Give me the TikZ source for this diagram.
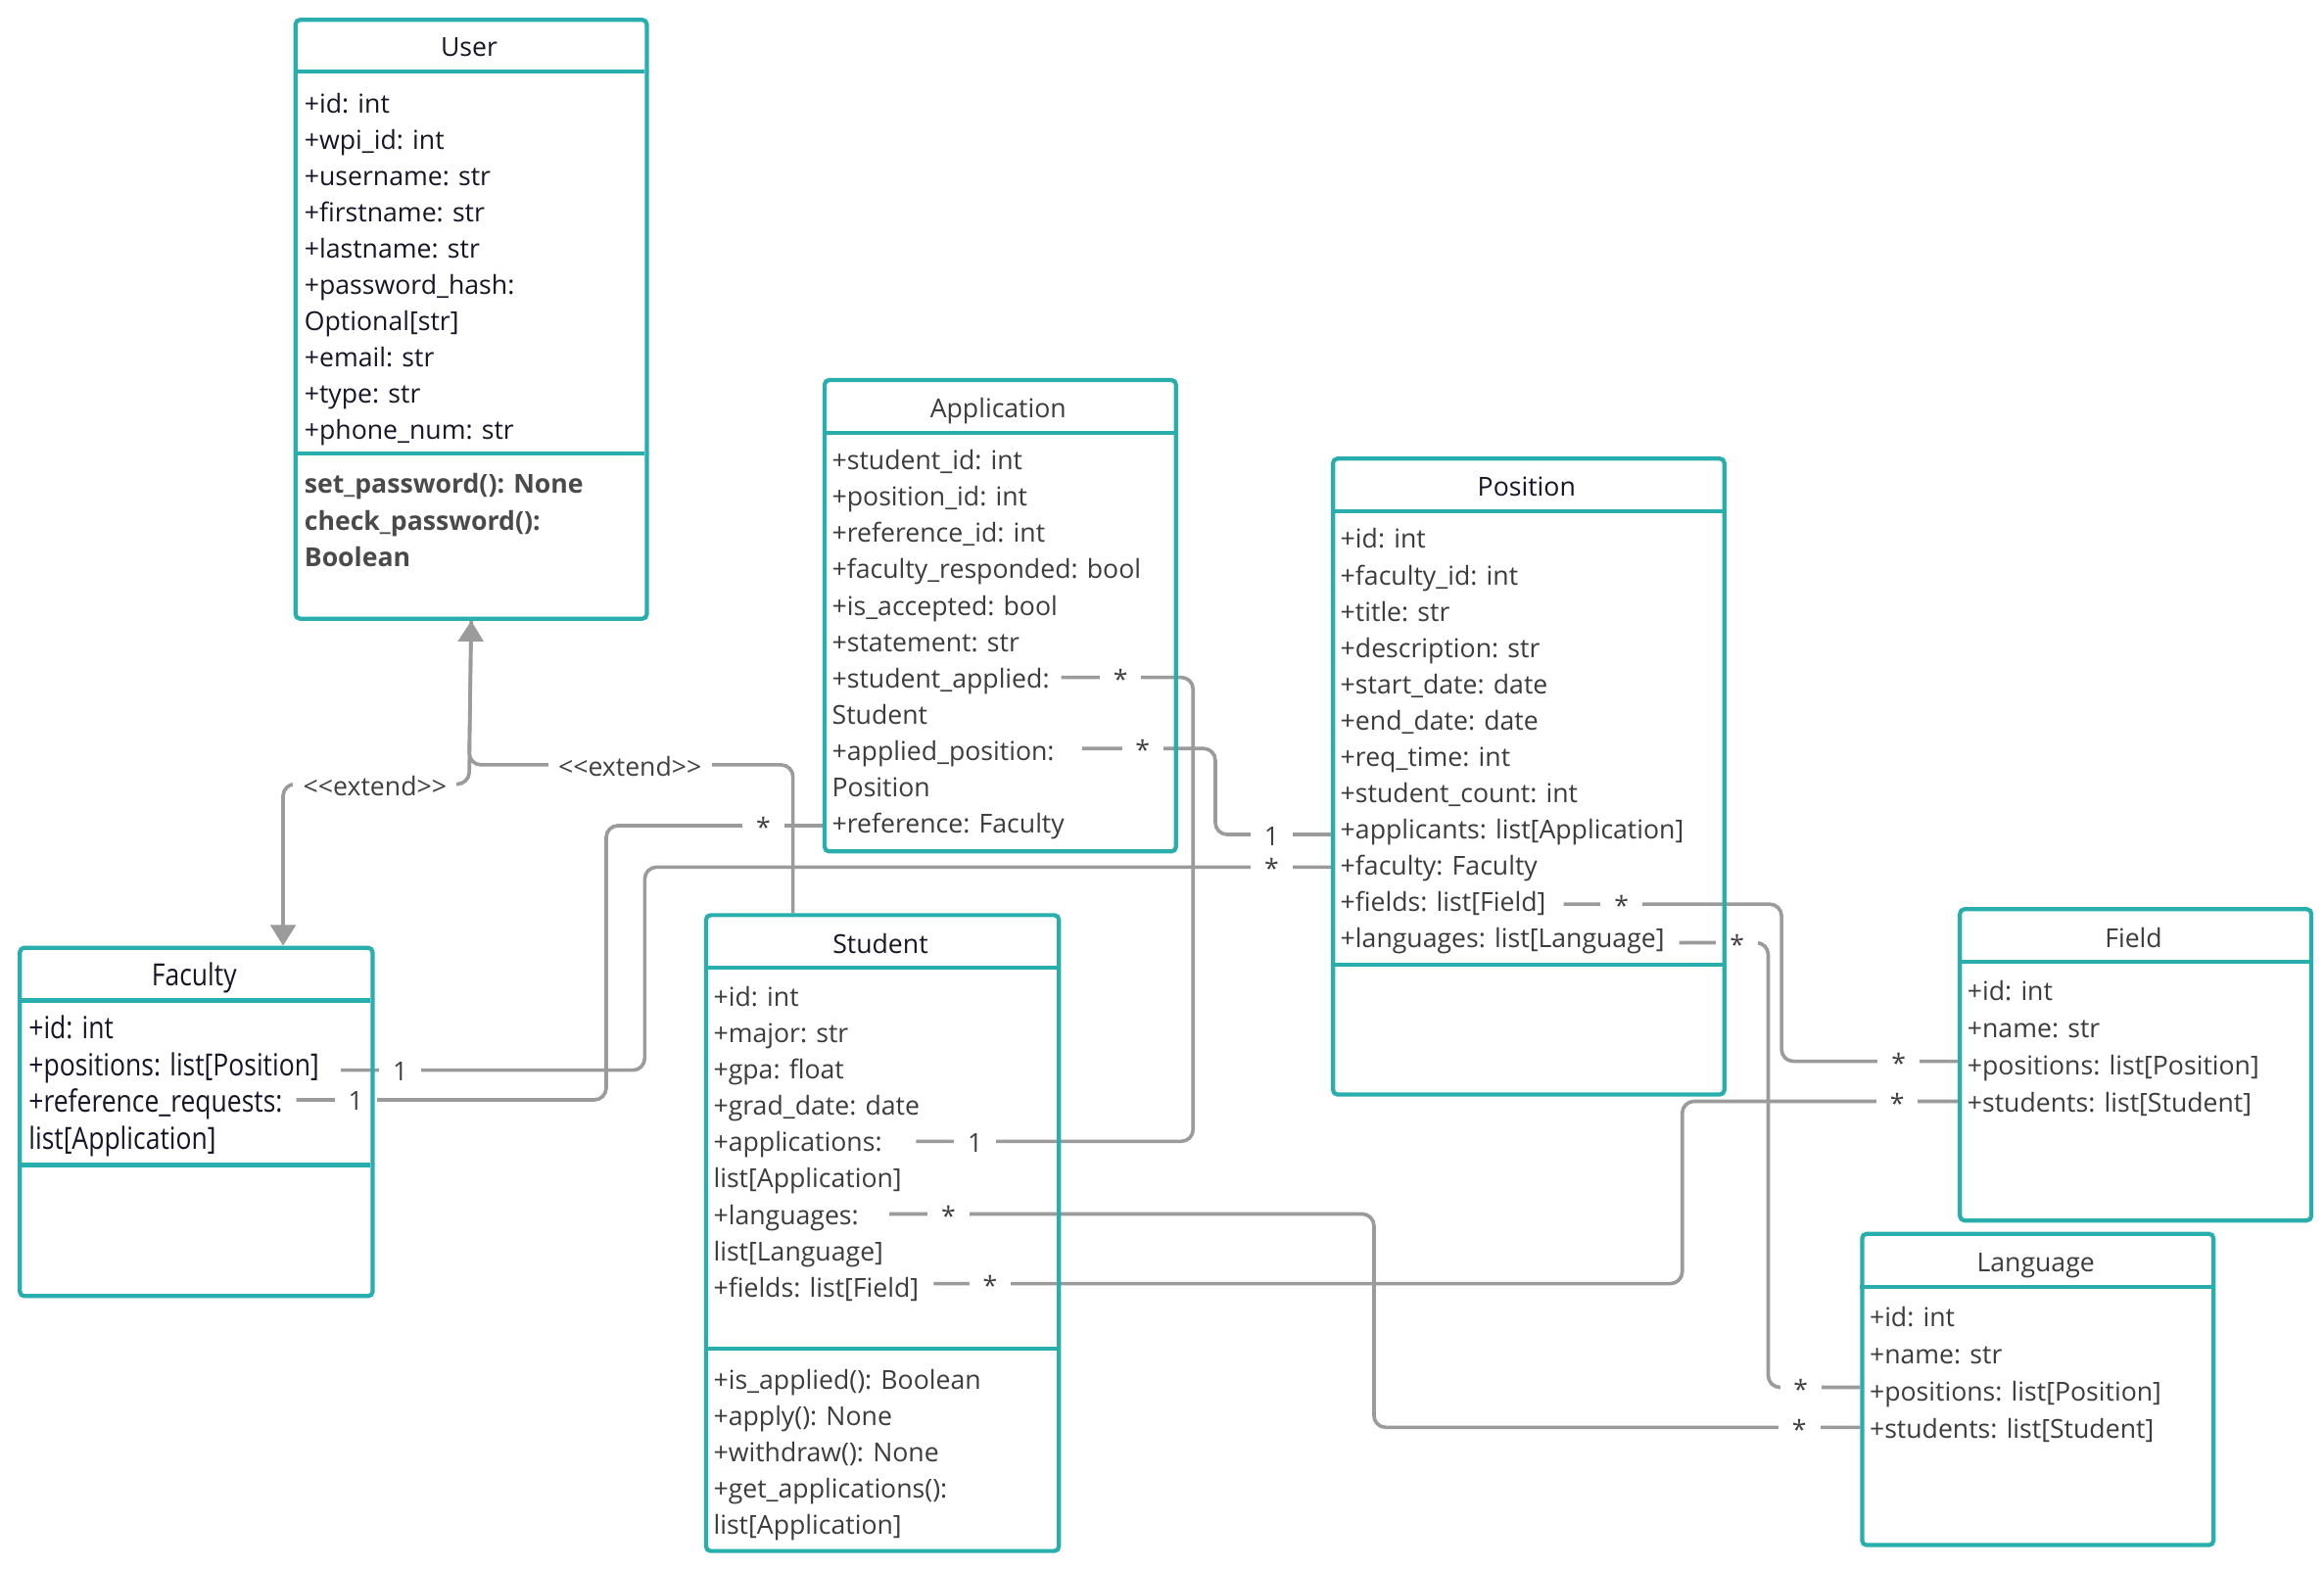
\documentclass[tikz,border=0pt]{standalone}
\usepackage{fontspec}
\setmainfont{Open Sans}
\usepackage{graphicx}
\usetikzlibrary{arrows.meta}

\definecolor{boxteal}{RGB}{40,174,172}
\definecolor{wire}{RGB}{155,155,155}
\definecolor{ink}{RGB}{22,22,38}
\definecolor{greytext}{RGB}{60,60,60}
\definecolor{methodgrey}{RGB}{74,74,74}
\definecolor{labelgrey}{RGB}{64,64,64}

\newcommand\umlfont{\fontsize{8.8pt}{10.5pt}\selectfont}
\newcommand\facfont{\fontsize{10.3pt}{12pt}\selectfont}
\newcommand\plainrow[1]{#1}
\newcommand\narrowrow[1]{\scalebox{0.85}[1]{#1}}

% class box: name, left, top, right, bottom (units of the picture)
\newcommand\classbox[5]{%
  \node[classframe, minimum width={(#4-#2)*0.5pt}, minimum height={(#5-#3)*0.5pt}]
    (#1) at (#2,#3) {};}
% compartment divider: left, right, y
\newcommand\divider[3]{\draw[boxrule] (#1,#3) -- (#2,#3);}
% rows of a compartment: prefix, x, first row centre, step, style, wrapper, list
\newcommand\classrows[7]{%
  \foreach \rowtext [count=\k from 0] in {#7}{%
    \node[#5, anchor=base west] (#1-\k) at (#2, {#3 + 7 + #4*\k}) {#6{\rowtext}};
  }}

\pgfdeclarelayer{bg}
\pgfdeclarelayer{lines}
\pgfdeclarelayer{labels}
\pgfsetlayers{bg,lines,labels,main}

\begin{document}
\begin{tikzpicture}[x=0.5pt,y=-0.5pt,
  classframe/.style={draw=boxteal, line width=1.4pt, rounded corners=1.5pt,
    anchor=north west, inner sep=0pt},
  boxrule/.style={draw=boxteal, line width=1.4pt},
  title/.style={font=\umlfont, inner sep=0pt, anchor=base},
  darkrow/.style={font=\umlfont, text=ink, inner sep=0pt},
  greyrow/.style={font=\umlfont, text=greytext, inner sep=0pt},
  methodrow/.style={font=\umlfont\bfseries, text=methodgrey, inner sep=0pt},
  facrow/.style={font=\facfont, text=ink, inner sep=0pt},
  assoc/.style={draw=wire, line width=1.2pt, rounded corners=4pt},
  mult/.style={fill=white, text=labelgrey, font=\umlfont, inner xsep=4.6pt, inner ysep=1pt},
  stereo/.style={fill=white, text=labelgrey, font=\umlfont, inner xsep=3.4pt, inner ysep=1pt},
  gentip/.style={-{Triangle[width=8.5pt,length=7pt]}}
]
\begin{pgfonlayer}{bg}
  \fill[white] (0,0) rectangle (1568,1059);
\end{pgfonlayer}
\useasboundingbox (0,0) rectangle (1568,1059);

% ---------------- User
\classbox{user}{198}{12}{435}{416}
\divider{198}{435}{48}
\divider{198}{435}{306}
\node[title, text=ink] (user-title) at (316.5,38) {User};
\classrows{user-a}{205}{69}{24.5}{darkrow}{\plainrow}{+id: int,+wpi\_id: int,+username: str,+firstname: str,+lastname: str,+password\_hash:,Optional[str],+email: str,+type: str,+phone\_num: str}
\classrows{user-m}{205}{326}{24.5}{methodrow}{\plainrow}{set\_password(): None,check\_password():,Boolean}

% ---------------- Application
\classbox{app}{555}{255}{792}{573}
\divider{555}{792}{292}
\node[title, text=greytext] (app-title) at (673.5,282) {Application};
\classrows{app-a}{561}{310}{24.5}{greyrow}{\plainrow}{+student\_id: int,+position\_id: int,+reference\_id: int,+faculty\_responded: bool,+is\_accepted: bool,+statement: str,+student\_applied:,Student,+applied\_position:,Position,+reference: Faculty}

% ---------------- Position
\classbox{pos}{898}{308}{1162}{737}
\divider{898}{1162}{345}
\divider{898}{1162}{651}
\node[title, text=ink] (pos-title) at (1030,335) {Position};
\classrows{pos-a}{904}{363}{24.5}{greyrow}{\plainrow}{+id: int,+faculty\_id: int,+title: str,+description: str,+start\_date: date,+end\_date: date,+req\_time: int,+student\_count: int,+applicants: list[Application],+faculty: Faculty,+fields: list[Field],+languages: list[Language]}

% ---------------- Faculty
\classbox{fac}{12}{638}{250}{873}
\divider{12}{250}{675}
\divider{12}{250}{786}
\node[title, font=\facfont, text=ink] (fac-title) at (131,665) {\narrowrow{Faculty}};
\classrows{fac-a}{19}{694}{24.8}{facrow}{\narrowrow}{+id: int,+positions: list[Position],+reference\_requests:,list[Application]}

% ---------------- Student
\classbox{stu}{475}{616}{713}{1045}
\divider{475}{713}{653}
\divider{475}{713}{910}
\node[title, text=ink] (stu-title) at (594,643) {Student};
\classrows{stu-a}{481}{672}{24.5}{greyrow}{\plainrow}{+id: int,+major: str,+gpa: float,+grad\_date: date,+applications:,list[Application],+languages:,list[Language],+fields: list[Field]}
\classrows{stu-m}{481}{930}{24.6}{greyrow}{\plainrow}{+is\_applied(): Boolean,+apply(): None,+withdraw(): None,+get\_applications():,list[Application]}

% ---------------- Field
\classbox{fld}{1321}{612}{1558}{822}
\divider{1321}{1558}{649}
\node[title, text=greytext] (fld-title) at (1439.5,639) {Field};
\classrows{fld-a}{1327}{668}{25}{greyrow}{\plainrow}{+id: int,+name: str,+positions: list[Position],+students: list[Student]}

% ---------------- Language
\classbox{lng}{1255}{831}{1492}{1041}
\divider{1255}{1492}{868}
\node[title, text=greytext] (lng-title) at (1373.5,858) {Language};
\classrows{lng-a}{1261}{888}{25}{greyrow}{\plainrow}{+id: int,+name: str,+positions: list[Position],+students: list[Student]}

% ---------------- association ends
\coordinate (app-sa) at (716,457);
\coordinate (app-ap) at (730,505);
\coordinate (app-ref) at (555,557);
\coordinate (pos-apl) at (898,563);
\coordinate (pos-fac) at (898,585);
\coordinate (pos-fld) at (1055,610);
\coordinate (pos-lng) at (1133,636);
\coordinate (fac-pos) at (230,722);
\coordinate (fac-rr) at (200,742);
\coordinate (stu-ap) at (618,770);
\coordinate (stu-lng) at (600,819);
\coordinate (stu-fld) at (630,866);
\coordinate (fld-pos) at (1321,716);
\coordinate (fld-stu) at (1321,743);
\coordinate (lng-pos) at (1255,936);
\coordinate (lng-stu) at (1255,963);
\coordinate (fac-in) at (191,638);
\coordinate (stu-in) at (535,616);

\begin{pgfonlayer}{lines}
  % generalisations
  \draw[assoc, gentip] (stu-in) -- (535,516) -- (316.5,516) -- (user.south);
  \draw[assoc, gentip] (user.south) -- (316.5,529) -- (191,529) -- (fac-in);
  % associations
  \draw[assoc] (app-sa) -- (805,457) -- (805,770) -- (stu-ap);
  \draw[assoc] (app-ap) -- (820,505) -- (820,563) -- (pos-apl);
  \draw[assoc] (app-ref) -- (409,557) -- (409,742) -- (fac-rr);
  \draw[assoc] (fac-pos) -- (435,722) -- (435,585) -- (pos-fac);
  \draw[assoc] (pos-fld) -- (1202,610) -- (1202,716) -- (fld-pos);
  \draw[assoc] (pos-lng) -- (1193,636) -- (1193,936) -- (lng-pos);
  \draw[assoc] (stu-lng) -- (927,819) -- (927,963) -- (lng-stu);
  \draw[assoc] (stu-fld) -- (1135,866) -- (1135,743) -- (fld-stu);
\end{pgfonlayer}

\begin{pgfonlayer}{labels}
  \node[stereo] (ext-stu) at (425,517) {<\kern0pt<extend>\kern0pt>};
  \node[stereo] (ext-fac) at (253,530) {<\kern0pt<extend>\kern0pt>};
  \node[mult] (m-a1) at (756,458) {*};
  \node[mult] (m-a2) at (658,771) {1};
  \node[mult] (m-b1) at (771,506) {*};
  \node[mult] (m-b2) at (858,564) {1};
  \node[mult] (m-c1) at (515,558) {*};
  \node[mult] (m-c2) at (240,743) {1};
  \node[mult] (m-d1) at (270,723) {1};
  \node[mult] (m-d2) at (858,586) {*};
  \node[mult] (m-e1) at (1094,611) {*};
  \node[mult] (m-e2) at (1281,717) {*};
  \node[mult] (m-f1) at (1172,637) {*};
  \node[mult] (m-f2) at (1215,937) {*};
  \node[mult] (m-g1) at (640,820) {*};
  \node[mult] (m-g2) at (1214,964) {*};
  \node[mult] (m-h1) at (668,867) {*};
  \node[mult] (m-h2) at (1280,744) {*};
\end{pgfonlayer}
\end{tikzpicture}
\end{document}
